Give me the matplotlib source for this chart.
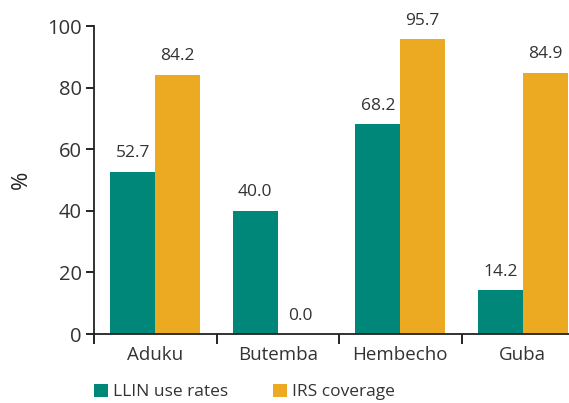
import matplotlib
matplotlib.use("Agg")
import matplotlib.pyplot as plt
import numpy as np

categories = ["Aduku", "Butemba", "Hembecho", "Guba"]
llin = [52.7, 40.0, 68.2, 14.2]
irs = [84.2, 0.0, 95.7, 84.9]
series_names = ["LLIN use rates", "IRS coverage"]
yticks = [0, 20, 40, 60, 80, 100]

teal = "#00877A"
orange = "#EBAA22"
txt = "#333333"
plt.rcParams['font.family'] = ['Open Sans', 'DejaVu Sans']

W, H = 569, 403
fig = plt.figure(figsize=(W/100, H/100), dpi=100)
ax = fig.add_axes([94/W, 69/H, 490/W, 308/H])

x = np.arange(len(categories))
bw = 0.367
b1 = ax.bar(x - bw/2, llin, bw, color=teal, label=series_names[0])
b2 = ax.bar(x + bw/2, irs, bw, color=orange, label=series_names[1])

for bars, vals in ((b1, llin), (b2, irs)):
    for rect, v in zip(bars, vals):
        ax.annotate(f"{v:.1f}", (rect.get_x() + rect.get_width()/2, v),
                    xytext=(0, 7.5), textcoords="offset points",
                    ha="center", va="bottom", fontsize=12.5, color=txt)

ax.set_xlim(-0.5, 3.5)
ax.set_ylim(0, 100)
ax.set_yticks(yticks)
ax.set_yticklabels([str(t) for t in yticks], fontsize=14.5, color=txt)
ax.set_xticks(np.arange(-0.5, 3.0, 1.0))
ax.set_xticklabels([])
ax.set_xticks(x, minor=True)
ax.set_xticklabels(categories, minor=True, fontsize=13.5, color=txt)
ax.tick_params(axis="x", which="minor", length=0, pad=9)
ax.tick_params(axis="x", which="major", length=7, width=1.2, direction="out")
ax.tick_params(axis="y", length=6, width=1.2, direction="out", pad=3)
for s in ("top", "right"):
    ax.spines[s].set_visible(False)
for s in ("left", "bottom"):
    ax.spines[s].set_linewidth(1.3)
    ax.spines[s].set_color("#222222")
ax.set_ylabel("%", fontsize=16, color="#222222")
ax.yaxis.set_label_coords(-62/490, 0.5)

fig.legend(handles=[b1, b2], labels=series_names, loc="lower left",
           bbox_to_anchor=(78/W, -13/H), ncol=2, frameon=False, fontsize=12.5,
           handlelength=0.8, handleheight=0.8, handletextpad=0.3,
           columnspacing=2.6, labelcolor=txt)

fig.savefig("out.png", dpi=100)
